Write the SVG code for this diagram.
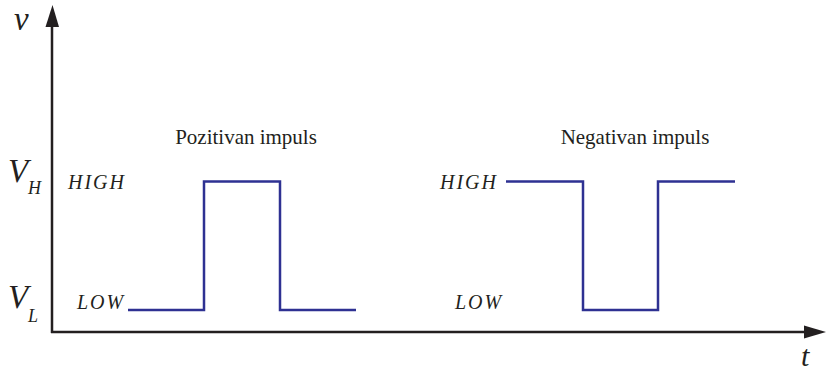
<svg xmlns="http://www.w3.org/2000/svg" width="826" height="372" viewBox="0 0 826 372">
<style>
.ax{stroke:#231f20;stroke-width:2.5;fill:none}
.sig{stroke:#2e3192;stroke-width:2.5;fill:none;stroke-linejoin:miter}
.it{font-family:'Liberation Serif','Times New Roman','DejaVu Serif',serif;font-style:italic;fill:#231f20}
.lv{font-size:20px;letter-spacing:2px}
.rm{font-family:'Liberation Serif','Times New Roman','DejaVu Serif',serif;fill:#231f20;font-size:21px}
</style>
<g id="axes">
<line class="ax" x1="52" y1="333" x2="52" y2="26"/>
<path d="M45.5,27 L52.5,5 L59,27 Z" fill="#231f20"/>
<line class="ax" x1="51" y1="332" x2="806" y2="332"/>
<path d="M804,325.5 L826,332 L804,338.5 Z" fill="#231f20"/>
</g>
<g id="labels">
<text class="it" x="14" y="30" font-size="33">v</text>
<text class="it" x="801" y="366" font-size="30">t</text>
<text class="it" x="8" y="182" font-size="33">V</text>
<text class="it" x="28" y="194" font-size="18">H</text>
<text class="it" x="8" y="308" font-size="33">V</text>
<text class="it" x="28" y="322" font-size="18">L</text>
</g>
<g id="positive">
<text class="rm" x="246" y="144" text-anchor="middle">Pozitivan impuls</text>
<text class="it lv" x="68" y="189">HIGH</text>
<text class="it lv" x="77" y="309">LOW</text>
<path class="sig" d="M128,310 H204 V181.5 H280 V310 H356"/>
</g>
<g id="negative">
<text class="rm" x="635" y="144" text-anchor="middle">Negativan impuls</text>
<text class="it lv" x="440" y="189">HIGH</text>
<text class="it lv" x="455" y="309">LOW</text>
<path class="sig" d="M506,181.5 H583 V310 H658 V181.5 H735"/>
</g>
</svg>
